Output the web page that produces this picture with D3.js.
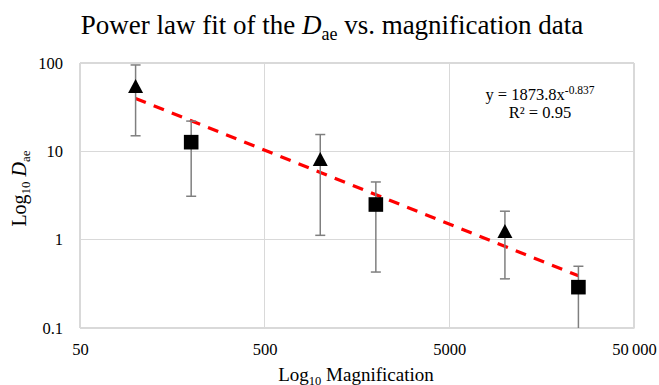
<!DOCTYPE html>
<html>
<head>
<meta charset="utf-8">
<script src="https://cdn.jsdelivr.net/npm/d3@7"></script>
<style>
  html, body { margin: 0; padding: 0; background: #fff; }
  svg { display: block; font-family: "Liberation Serif", "Times New Roman", serif; }
</style>
</head>
<body>
<script>
// ---- data ----
const magnification = [100, 200, 1000, 2000, 10000, 25000];
const daeValues     = [55, 12.7, 8.2, 2.5, 1.25, 0.29];
const errUpper      = [95, 22, 15.5, 4.5, 2.1, 0.5];
const errLower      = [15, 3.1, 1.12, 0.43, 0.36, 0.1];
const markerShape   = ["triangle", "square", "triangle", "square", "triangle", "square"];
const xTicks = [50, 500, 5000, 50000];
const xTickLabels = ["50", "500", "5000", "50\u2009000"];
const yTicks = [0.1, 1, 10, 100];
const yTickLabels = ["0.1", "1", "10", "100"];
const fitCoef = 1873.8;
const fitExp = -0.837;
const fitRange = [100, 25000];

const W = 659, H = 385;
const margin = { left: 80, right: 25, top: 63, bottom: 57 };

const svg = d3.select("body").append("svg").attr("width", W).attr("height", H);

const x = d3.scaleLog().domain([50, 50000]).range([margin.left, W - margin.right]);
const y = d3.scaleLog().domain([0.1, 100]).range([H - margin.bottom, margin.top]);

// gridlines
const grid = svg.append("g");
grid.selectAll("line.h").data(yTicks).join("line")
  .attr("x1", x(50)).attr("x2", x(50000))
  .attr("y1", d => y(d)).attr("y2", d => y(d))
  .attr("stroke", "#d9d9d9").attr("stroke-width", 1.2).attr("shape-rendering", "crispEdges");
grid.selectAll("line.v").data(xTicks).join("line")
  .attr("y1", y(0.1)).attr("y2", y(100))
  .attr("x1", d => x(d)).attr("x2", d => x(d))
  .attr("stroke", "#d9d9d9").attr("stroke-width", 1.2).attr("shape-rendering", "crispEdges");

// axes (labels only)
const xAxis = d3.axisBottom(x).tickValues(xTicks).tickFormat((d, i) => xTickLabels[i]).tickSize(0).tickPadding(15);
const gx = svg.append("g").attr("transform", `translate(0,${y(0.1)})`).call(xAxis);
gx.select(".domain").attr("stroke", "#d9d9d9").attr("stroke-width", 1.2);
gx.selectAll("text").attr("font-size", 16.5).attr("fill", "#000").attr("font-family", "Liberation Serif");

const yAxis = d3.axisLeft(y).tickValues(yTicks).tickFormat((d, i) => yTickLabels[i]).tickSize(0).tickPadding(17);
const gy = svg.append("g").attr("transform", `translate(${x(50)},0)`).call(yAxis);
gy.select(".domain").remove();
gy.selectAll("text").attr("font-size", 16.5).attr("fill", "#000").attr("font-family", "Liberation Serif");

// trendline
const fitPts = fitRange.map(v => [v, fitCoef * Math.pow(v, fitExp)]);
svg.append("line")
  .attr("x1", x(fitPts[0][0])).attr("y1", y(fitPts[0][1]))
  .attr("x2", x(fitPts[1][0])).attr("y2", y(fitPts[1][1]))
  .attr("stroke", "#ff0000").attr("stroke-width", 3.2)
  .attr("stroke-dasharray", "11,8.5");

// error bars
const data = magnification.map((m, i) => ({ m, v: daeValues[i], hi: errUpper[i], lo: errLower[i], shape: markerShape[i] }));
const eb = svg.append("g").attr("stroke", "#7f7f7f").attr("stroke-width", 1.5);
eb.selectAll("line.stem").data(data).join("line")
  .attr("x1", d => x(d.m)).attr("x2", d => x(d.m))
  .attr("y1", d => y(d.hi)).attr("y2", d => y(d.lo));
eb.selectAll("line.cap").data(data.filter(d => d.lo > 0.1)).join("line")
  .attr("x1", d => x(d.m) - 5).attr("x2", d => x(d.m) + 5)
  .attr("y1", d => y(d.lo)).attr("y2", d => y(d.lo));
eb.selectAll("line.capt").data(data).join("line")
  .attr("x1", d => x(d.m) - 5).attr("x2", d => x(d.m) + 5)
  .attr("y1", d => y(d.hi)).attr("y2", d => y(d.hi));

// markers
const mk = svg.append("g");
mk.selectAll("rect").data(data.filter(d => d.shape === "square")).join("rect")
  .attr("x", d => x(d.m) - 7.3).attr("y", d => y(d.v) - 7.3)
  .attr("width", 14.6).attr("height", 14.6).attr("fill", "#000");
mk.selectAll("path").data(data.filter(d => d.shape === "triangle")).join("path")
  .attr("d", d => {
    const cx = x(d.m), cy = y(d.v);
    return `M${cx},${cy - 7} L${cx + 7.5},${cy + 7} L${cx - 7.5},${cy + 7} Z`;
  })
  .attr("fill", "#000");

// title
const title = svg.append("text").attr("x", 332).attr("y", 34).attr("text-anchor", "middle")
  .attr("font-size", 27).attr("fill", "#000");
title.append("tspan").text("Power law fit of the ");
title.append("tspan").attr("font-style", "italic").text("D");
title.append("tspan").attr("font-size", 18).attr("dy", 6).text("ae");
title.append("tspan").attr("dy", -6).text(" vs. magnification data");

// equation
svg.append("text").attr("x", 540).attr("y", 100).attr("text-anchor", "middle")
  .attr("font-size", 16.5).attr("fill", "#000")
  .call(t => {
    t.append("tspan").text("y = 1873.8x");
    t.append("tspan").attr("font-size", 11.5).attr("dy", -6).text("-0.837");
  });
svg.append("text").attr("x", 540).attr("y", 118).attr("text-anchor", "middle")
  .attr("font-size", 16.5).attr("fill", "#000").text("R\u00B2 = 0.95");

// x axis title
const xt = svg.append("text").attr("x", 356).attr("y", 381).attr("text-anchor", "middle")
  .attr("font-size", 19).attr("fill", "#000");
xt.append("tspan").text("Log");
xt.append("tspan").attr("font-size", 12.5).attr("dy", 4).text("10");
xt.append("tspan").attr("dy", -4).text(" Magnification");

// y axis title
const yt = svg.append("text").attr("transform", `translate(26,188.5) rotate(-90)`)
  .attr("text-anchor", "middle").attr("font-size", 20).attr("fill", "#000");
yt.append("tspan").text("Log");
yt.append("tspan").attr("font-size", 13).attr("dy", 4).text("10");
yt.append("tspan").attr("dy", -4).text(" ");
yt.append("tspan").attr("font-style", "italic").text("D");
yt.append("tspan").attr("font-size", 13).attr("dy", 4).text("ae");
</script>
</body>
</html>
